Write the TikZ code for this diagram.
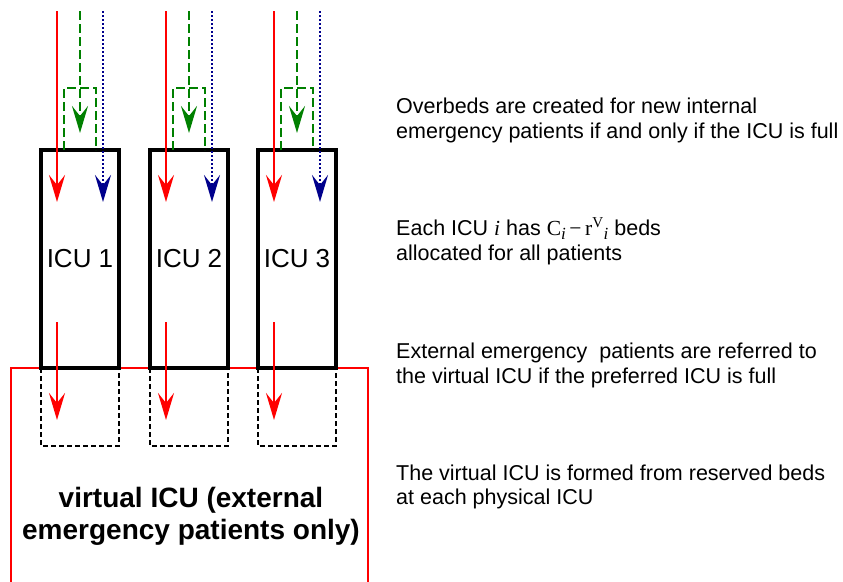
\documentclass[tikz,border=0pt]{standalone}
\usepackage{fontspec}
\setmainfont{Liberation Sans}
\newfontfamily\tms{Liberation Serif}
\usetikzlibrary{arrows.meta}
\newcommand{\sbi}{\raisebox{-4pt}{\fontsize{17}{17}\selectfont\itshape i}}
\begin{document}
\begin{tikzpicture}[x=1pt,y=-1pt,
  icubox/.style={draw,line width=3.2pt,minimum width=78pt,minimum height=218pt,inner sep=0pt,
     font=\fontsize{26}{30}\selectfont},
  bedbox/.style={draw,line width=2.6pt,dash pattern=on 5pt off 3pt},
  redarr/.style={draw=red,line width=2.8pt,-{Stealth[length=27pt,width=16pt,inset=10pt]},color=red},
  greenarr/.style={draw={rgb,255:red,0;green,128;blue,0},line width=2.8pt,dash pattern=on 9pt off 4pt,
     -{Stealth[length=27pt,width=16pt,inset=10pt]},color={rgb,255:red,0;green,128;blue,0}},
  greenbox/.style={draw={rgb,255:red,0;green,128;blue,0},line width=2.8pt,dash pattern=on 9pt off 4pt},
  bluearr/.style={draw={rgb,255:red,0;green,0;blue,140},line width=2.8pt,dash pattern=on 2pt off 2pt,
     -{Stealth[length=27pt,width=16pt,inset=10pt]},color={rgb,255:red,0;green,0;blue,140}},
  note/.style={anchor=base west,inner sep=0pt,font=\fontsize{21.5}{25}\selectfont},
  vlabel/.style={anchor=base,inner sep=0pt,font=\fontsize{28}{32}\bfseries\selectfont}]
\useasboundingbox (0,0) rectangle (843,581);
% virtual ICU
\coordinate (vbl) at (11,585);
\coordinate (vtl) at (11,368);
\coordinate (vtr) at (368,368);
\coordinate (vbr) at (368,585);
\draw[red,line width=2.8pt] (vbl) -- (vtl) -- (vtr) -- (vbr);
\node[vlabel] (v1) at (191,507) {virtual ICU (external};
\node[vlabel] (v2) at (191,539) {emergency patients only)};
% ICUs
\foreach \L/\n in {41/1,150/2,258/3}{
  \draw[bedbox] (\L,368) rectangle (\L+78,446);
  \node[icubox] (icu\n) at (\L+39,259) {\raisebox{-3pt}{ICU \n}};
  \coordinate (rs\n) at (\L+16,11);
  \coordinate (re\n) at (\L+16,202);
  \coordinate (gs\n) at (\L+39,11);
  \coordinate (ge\n) at (\L+39,133);
  \coordinate (bs\n) at (\L+62,11);
  \coordinate (be\n) at (\L+62,202);
  \coordinate (g1\n) at (\L+23,150);
  \coordinate (g2\n) at (\L+23,88);
  \coordinate (g3\n) at (\L+55,88);
  \coordinate (g4\n) at (\L+55,150);
  \coordinate (ls\n) at (\L+16,322);
  \coordinate (le\n) at (\L+16,420);
  \draw[greenbox] (g1\n) -- (g2\n) -- (g3\n) -- (g4\n);
  \draw[redarr] (rs\n) -- (re\n);
  \draw[greenarr] (gs\n) -- (ge\n);
  \draw[bluearr] (bs\n) -- (be\n);
  \draw[redarr] (ls\n) -- (le\n);
}
% notes
\node[note] (n1a) at (396,113) {Overbeds are created for new internal};
\node[note] (n1b) at (396,138) {emergency patients if and only if the ICU is full};
\node[note] (n2a) at (396,235) {Each ICU {\tms\itshape i} has {\tms C\sbi\,−\,r\textsuperscript{V}\sbi} beds};
\node[note] (n2b) at (396,260) {allocated for all patients};
\node[note] (n3a) at (396,358) {External emergency\ \ patients are referred to};
\node[note] (n3b) at (396,383) {the virtual ICU if the preferred ICU is full};
\node[note] (n4a) at (396,480) {The virtual ICU is formed from reserved beds};
\node[note] (n4b) at (396,504) {at each physical ICU};
\end{tikzpicture}
\end{document}
